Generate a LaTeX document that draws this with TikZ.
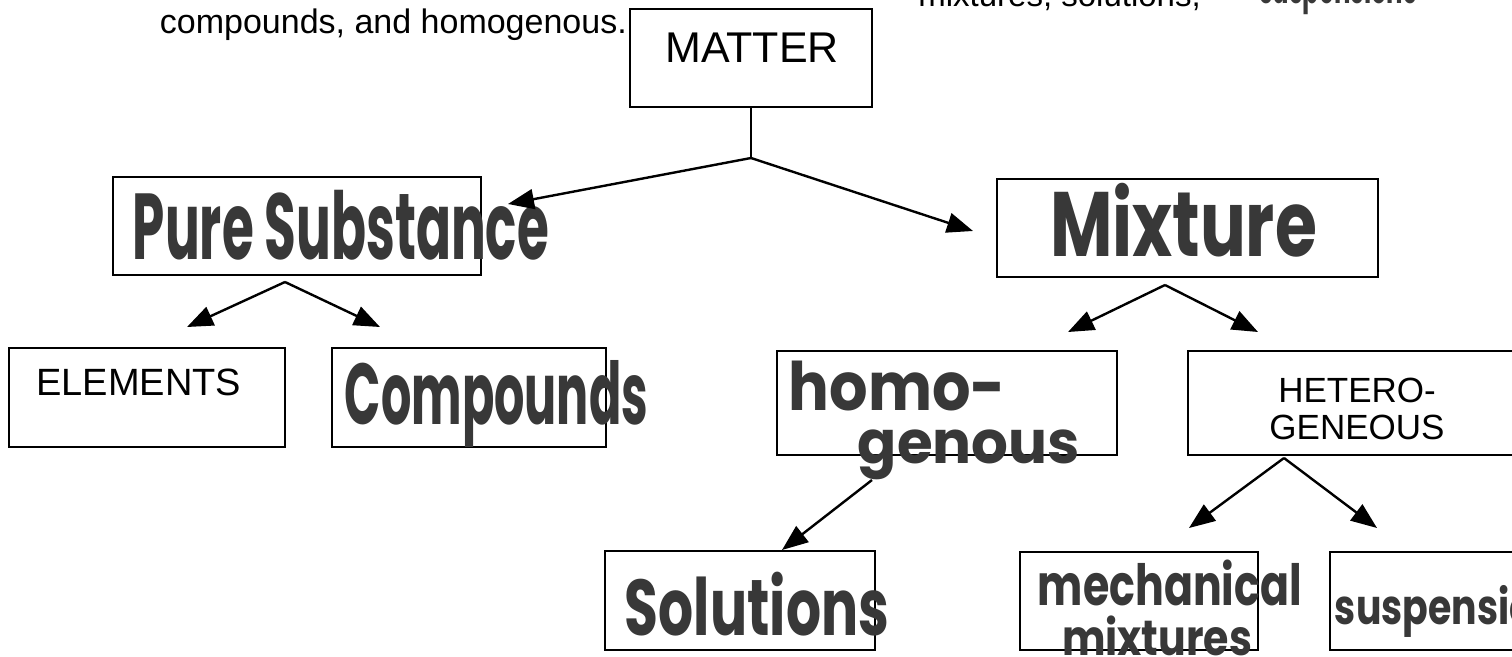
\documentclass[tikz,border=0pt]{standalone}
\usepackage{fontspec}
\setmainfont{Liberation Sans}
\newfontfamily\hand{Poppins}
\usetikzlibrary{arrows.meta}
\definecolor{ink}{HTML}{383838}
\tikzset{
  box/.style={draw=black, line width=2.4pt, inner sep=0pt},
  link/.style={line width=2.4pt},
  conn/.style={line width=2.4pt, -{Triangle[length=26pt,width=20pt]}},
  typed/.style={inner sep=0pt, text=black},
  hwtext/.style={inner sep=0pt, text=ink},
}
\newcommand{\fsz}[1]{\fontsize{#1}{#1}\selectfont}
\newcommand{\handtext}[3]{\resizebox*{#1pt}{#2pt}{\hand\bfseries #3}}
\begin{document}
\begin{tikzpicture}[x=1pt,y=-1pt]
\useasboundingbox (0,0) rectangle (1512,656);
\clip (0,0) rectangle (1512,656);
\fill[white] (0,0) rectangle (1512,656);

% boxes
\node[box, minimum width=242pt, minimum height=98pt] (matter) at (751,58) {};
\node[box, minimum width=368pt, minimum height=98pt] (pure) at (297,226) {};
\node[box, minimum width=381pt, minimum height=98pt] (mixture) at (1187.5,228) {};
\node[box, minimum width=276pt, minimum height=99pt] (elements) at (147,397.5) {};
\node[box, minimum width=274pt, minimum height=99pt] (compounds) at (469,397.5) {};
\node[box, minimum width=340pt, minimum height=104pt] (homog) at (947,403) {};
\node[box, minimum width=338pt, minimum height=104pt] (hetero) at (1357,403) {};
\node[box, minimum width=270pt, minimum height=99pt] (solutions) at (740,600.5) {};
\node[box, minimum width=238pt, minimum height=98pt] (mechanical) at (1139,601) {};
\node[box, minimum width=230pt, minimum height=98pt] (suspensions) at (1445,601) {};

% typed text
\node[typed, anchor=base east, font=\fsz{33}] (introa) at (1201,6) {mixtures, solutions,};
\node[typed, anchor=base east, font=\fsz{34}] (introb) at (627,33) {compounds, and homogenous.};
\node[typed, anchor=base, font=\fsz{43}] (matterlbl) at (752,62) {MATTER};
\node[typed, anchor=base west, font=\fsz{38}] (elemlbl) at (36,395) {ELEMENTS};
\node[typed, align=center, font=\fsz{35}] (heterolbl) at (1357,409) {HETERO-\\[2pt]GENEOUS};

% handwritten text
\node[hwtext] (introc) at (1338,-8) {\handtext{158}{45}{suspensions}};
\node[hwtext] (purelbl) at (341,225) {\handtext{416}{70}{Pure Substance}};
\node[hwtext] (complbl) at (496.5,403.5) {\handtext{303}{87}{Compounds}};
\node[hwtext] (mixlbl) at (1183.5,220) {\handtext{267}{74}{Mixture}};
\node[hwtext] (homolbla) at (897.5,386) {\handtext{217}{50}{homo-}};
\node[hwtext] (homolblb) at (969,455) {\handtext{222}{50}{genous}};
\node[hwtext] (sollbl) at (757,604) {\handtext{264}{64}{Solutions}};
\node[hwtext] (mechlbla) at (1170,583) {\handtext{264}{46}{mechanical}};
\node[hwtext] (mechlblb) at (1157,636) {\handtext{190}{40}{mixtures}};
\node[hwtext] (susplbl) at (1457.5,611) {\handtext{245}{52}{suspensions}};

% junctions and arrow ends
\coordinate (jM) at (751,158);
\coordinate (tPure) at (508,204);
\coordinate (tMix) at (973,231);
\coordinate (jP) at (285,282);
\coordinate (tElem) at (187,327);
\coordinate (tComp) at (380,327);
\coordinate (jX) at (1165,285);
\coordinate (tHomo) at (1068,332);
\coordinate (tHet) at (1258,332);
\coordinate (jH) at (872,480);
\coordinate (tSol) at (782,550);
\coordinate (jT) at (1284,458);
\coordinate (tMech) at (1189,528);
\coordinate (tSusp) at (1377,528);

\draw[link] (matter.south) -- (jM);
\draw[conn] (jM) -- (tPure);
\draw[conn] (jM) -- (tMix);
\draw[conn] (jP) -- (tElem);
\draw[conn] (jP) -- (tComp);
\draw[conn] (jX) -- (tHomo);
\draw[conn] (jX) -- (tHet);
\draw[conn] (jH) -- (tSol);
\draw[conn] (jT) -- (tMech);
\draw[conn] (jT) -- (tSusp);
\end{tikzpicture}
\end{document}
